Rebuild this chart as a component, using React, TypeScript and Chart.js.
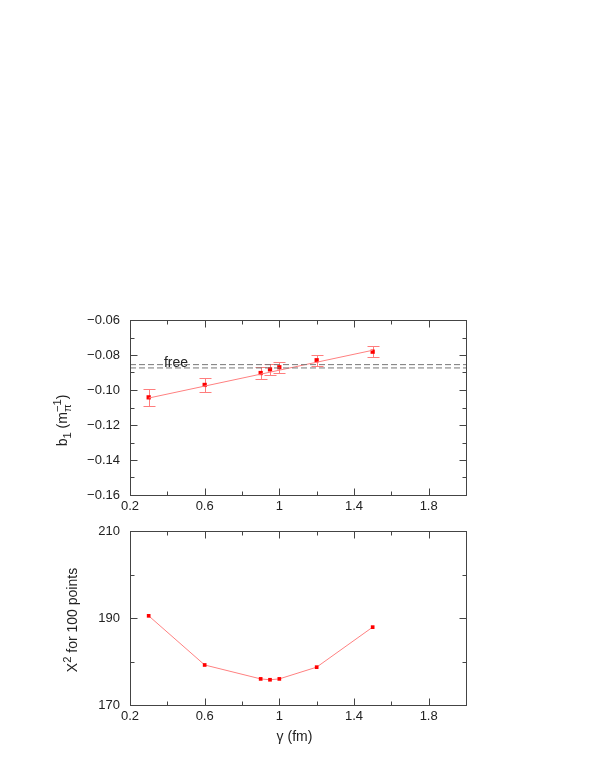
import { useEffect, useRef } from 'react';
import { Chart, registerables } from 'chart.js';

Chart.register(...registerables);

// gamma (fm) at which the calculation was done
const gammaFm = [0.3, 0.6, 0.9, 0.95, 1.0, 1.2, 1.5];
// b1 in units of 1/m_pi, with its error bars
const b1Values = [-0.1042, -0.0971, -0.0903, -0.0882, -0.087, -0.083, -0.0781];
const b1Errors = [0.005, 0.004, 0.0032, 0.003, 0.0031, 0.0032, 0.0031];
// straight line fitted through the b1 points
const fitGamma = [0.3, 1.5];
const fitB1 = [-0.1046, -0.0773];
// the two "free" reference levels
const freeLevels = [-0.0855, -0.0874];
const freeLabel = 'free';
const freeLabelGamma = 0.382;
// chi^2 for 100 points
const chi2Values = [190.5, 179.2, 176.0, 175.8, 176.0, 178.7, 187.9];

// axes
const xRange = [0.2, 2.0];
const xMajorTicks = [0.2, 0.6, 1.0, 1.4, 1.8];
const xMinorTicks = [0.4, 0.8, 1.2, 1.6];
const b1Range = [-0.16, -0.06];
const b1MajorTicks = [-0.16, -0.14, -0.12, -0.1, -0.08, -0.06];
const b1MinorTicks = [-0.15, -0.13, -0.11, -0.09, -0.07];
const chi2Range = [170, 210];
const chi2MajorTicks = [170, 190, 210];
const chi2MinorTicks = [180, 200];

const FONT = '"Liberation Sans", Arial, Helvetica, sans-serif';
const TEXT = '#222';
const FRAME = '#444';
const MARKER = '#ff0000';
const LINE = 'rgb(255,128,128)';
const ERRBAR = 'rgb(255,125,125)';
const tickFont = { family: FONT, size: 13 };

type Run = { text: string; script?: 'sub' | 'sup'; stack?: boolean };

const b1Title: Run[] = [
  { text: 'b' },
  { text: '1', script: 'sub' },
  { text: ' (m' },
  { text: 'π', script: 'sub' },
  { text: '−1', script: 'sup', stack: true },
  { text: ')' },
];
const chi2Title: Run[] = [{ text: 'Χ' }, { text: '2', script: 'sup' }, { text: ' for 100 points' }];
const gammaTitle: Run[] = [{ text: 'γ (fm)' }];

// draws a label with sub/superscripts, centred on (cx, cy)
function drawRuns(ctx: CanvasRenderingContext2D, runs: Run[], cx: number, cy: number, size: number, rotated: boolean) {
  const placed: { text: string; start: number; dy: number; s: number }[] = [];
  let x = 0;
  let prevStart = 0;
  let prevWidth = 0;
  for (const r of runs) {
    const s = r.script ? size * 0.8 : size;
    ctx.font = `${s}px ${FONT}`;
    const w = ctx.measureText(r.text).width;
    let start = x;
    if (r.stack) {
      start = prevStart;
      prevWidth = Math.max(prevWidth, w);
      x = prevStart + prevWidth;
    } else {
      x += w;
      prevWidth = w;
    }
    prevStart = start;
    const dy = r.script === 'sub' ? size * 0.3 : r.script === 'sup' ? -size * 0.42 : 0;
    placed.push({ text: r.text, start, dy, s });
  }
  ctx.save();
  ctx.translate(cx, cy);
  if (rotated) ctx.rotate(-Math.PI / 2);
  ctx.fillStyle = TEXT;
  ctx.textBaseline = 'alphabetic';
  ctx.textAlign = 'left';
  for (const p of placed) {
    ctx.font = `${p.s}px ${FONT}`;
    ctx.fillText(p.text, p.start - x / 2, size * 0.36 + p.dy);
  }
  ctx.restore();
}

// gnuplot style box with inward ticks on all four sides
function framePlugin(xMajor: number[], xMinor: number[], yMajor: number[], yMinor: number[]) {
  return {
    id: 'frame',
    afterDraw(chart: any) {
      const { ctx, chartArea } = chart;
      const { left, right, top, bottom } = chartArea;
      const xs = chart.scales.x;
      const ys = chart.scales.y;
      const L = Math.round(left) + 0.5;
      const R = Math.round(right) + 0.5;
      const T = Math.round(top) + 0.5;
      const B = Math.round(bottom) + 0.5;
      ctx.save();
      ctx.strokeStyle = FRAME;
      ctx.lineWidth = 1;
      ctx.strokeRect(L, T, R - L, B - T);
      ctx.beginPath();
      const xTick = (v: number, len: number) => {
        const p = Math.round(xs.getPixelForValue(v)) + 0.5;
        ctx.moveTo(p, B);
        ctx.lineTo(p, B - len);
        ctx.moveTo(p, T);
        ctx.lineTo(p, T + len);
      };
      const yTick = (v: number, len: number) => {
        const p = Math.round(ys.getPixelForValue(v)) + 0.5;
        ctx.moveTo(L, p);
        ctx.lineTo(L + len, p);
        ctx.moveTo(R, p);
        ctx.lineTo(R - len, p);
      };
      xMajor.forEach((v) => xTick(v, 7));
      xMinor.forEach((v) => xTick(v, 4));
      yMajor.forEach((v) => yTick(v, 7));
      yMinor.forEach((v) => yTick(v, 4));
      ctx.stroke();
      ctx.restore();
    },
  };
}

function errorBarPlugin() {
  return {
    id: 'errorBars',
    beforeDatasetsDraw(chart: any) {
      const { ctx } = chart;
      const xs = chart.scales.x;
      const ys = chart.scales.y;
      ctx.save();
      ctx.strokeStyle = ERRBAR;
      ctx.lineWidth = 1;
      ctx.beginPath();
      gammaFm.forEach((g, i) => {
        const px = Math.round(xs.getPixelForValue(g)) + 0.5;
        const hi = Math.round(ys.getPixelForValue(b1Values[i] + b1Errors[i])) + 0.5;
        const lo = Math.round(ys.getPixelForValue(b1Values[i] - b1Errors[i])) + 0.5;
        ctx.moveTo(px, hi);
        ctx.lineTo(px, lo);
        ctx.moveTo(px - 6, hi);
        ctx.lineTo(px + 6, hi);
        ctx.moveTo(px - 6, lo);
        ctx.lineTo(px + 6, lo);
      });
      ctx.stroke();
      ctx.restore();
    },
  };
}

const fmtX = (v: number) => String(Number(v.toFixed(2)));
const fmtB1 = (v: number) => (v < 0 ? '−' : '') + Math.abs(v).toFixed(2);

function xScale(height: number) {
  return {
    type: 'linear' as const,
    position: 'bottom' as const,
    min: xRange[0],
    max: xRange[1],
    grid: { display: false, drawTicks: false },
    border: { display: false },
    afterBuildTicks: (s: any) => {
      s.ticks = xMajorTicks.map((value) => ({ value }));
    },
    afterFit: (s: any) => {
      s.height = height;
    },
    ticks: {
      padding: 4,
      color: TEXT,
      font: tickFont,
      maxRotation: 0,
      autoSkip: false,
      callback: (v: any) => fmtX(Number(v)),
    },
  };
}

function topSpacer(height: number) {
  return {
    type: 'linear' as const,
    position: 'top' as const,
    grid: { display: false, drawTicks: false },
    border: { display: false },
    ticks: { display: false },
    afterFit: (s: any) => {
      s.height = height;
    },
  };
}

function yScale(range: number[], major: number[], fmt: (v: number) => string) {
  return {
    type: 'linear' as const,
    position: 'left' as const,
    min: range[0],
    max: range[1],
    grid: { display: false, drawTicks: false },
    border: { display: false },
    afterBuildTicks: (s: any) => {
      s.ticks = major.map((value) => ({ value }));
    },
    afterFit: (s: any) => {
      s.width = 130;
    },
    ticks: {
      padding: 10,
      color: TEXT,
      font: tickFont,
      autoSkip: false,
      callback: (v: any) => fmt(Number(v)),
    },
  };
}

export default function App() {
  const topRef = useRef<HTMLCanvasElement>(null);
  const bottomRef = useRef<HTMLCanvasElement>(null);

  useEffect(() => {
    if (!topRef.current || !bottomRef.current) return;

    const b1Chart = new Chart(topRef.current, {
      type: 'scatter',
      data: {
        datasets: [
          ...freeLevels.map((level) => ({
            data: xRange.map((x) => ({ x, y: level })),
            showLine: true,
            borderColor: '#777',
            borderDash: [6, 3],
            borderWidth: 1,
            pointRadius: 0,
          })),
          {
            data: fitGamma.map((x, i) => ({ x, y: fitB1[i] })),
            showLine: true,
            borderColor: LINE,
            borderWidth: 1,
            pointRadius: 0,
          },
          {
            data: gammaFm.map((x, i) => ({ x, y: b1Values[i] })),
            showLine: false,
            pointStyle: 'rect',
            pointRadius: 3,
            backgroundColor: MARKER,
            borderWidth: 0,
          },
        ],
      },
      options: {
        responsive: false,
        animation: false,
        layout: { padding: { right: 129 } },
        plugins: { legend: { display: false }, tooltip: { enabled: false } },
        scales: {
          x: xScale(35),
          xTop: topSpacer(20),
          y: yScale(b1Range, b1MajorTicks, fmtB1),
        },
      } as any,
      plugins: [
        errorBarPlugin(),
        framePlugin(xMajorTicks, xMinorTicks, b1MajorTicks, b1MinorTicks),
        {
          id: 'b1Labels',
          afterDraw(chart: any) {
            const { ctx, chartArea } = chart;
            drawRuns(ctx, b1Title, chartArea.left - 68, (chartArea.top + chartArea.bottom) / 2 + 13, 14, true);
            const px = chart.scales.x.getPixelForValue(freeLabelGamma);
            const py = chart.scales.y.getPixelForValue(freeLevels[0]);
            ctx.save();
            ctx.font = `14px ${FONT}`;
            ctx.fillStyle = TEXT;
            ctx.textAlign = 'left';
            ctx.textBaseline = 'alphabetic';
            ctx.fillText(freeLabel, px, py + 2);
            ctx.restore();
          },
        },
      ],
    });

    const chi2Chart = new Chart(bottomRef.current, {
      type: 'scatter',
      data: {
        datasets: [
          {
            data: gammaFm.map((x, i) => ({ x, y: chi2Values[i] })),
            showLine: true,
            borderColor: LINE,
            borderWidth: 1,
            pointStyle: 'rect',
            pointRadius: 2.6,
            pointBackgroundColor: MARKER,
            pointBorderWidth: 0,
          },
        ],
      },
      options: {
        responsive: false,
        animation: false,
        layout: { padding: { right: 129 } },
        plugins: { legend: { display: false }, tooltip: { enabled: false } },
        scales: {
          x: xScale(65),
          xTop: topSpacer(18),
          y: yScale(chi2Range, chi2MajorTicks, (v) => String(v)),
        },
      } as any,
      plugins: [
        framePlugin(xMajorTicks, xMinorTicks, chi2MajorTicks, chi2MinorTicks),
        {
          id: 'chi2Labels',
          afterDraw(chart: any) {
            const { ctx, chartArea } = chart;
            drawRuns(ctx, chi2Title, chartArea.left - 58, (chartArea.top + chartArea.bottom) / 2 + 2, 14, true);
            drawRuns(ctx, gammaTitle, (chartArea.left + chartArea.right) / 2 - 3.5, chartArea.bottom + 31, 14, false);
          },
        },
      ],
    });

    return () => {
      b1Chart.destroy();
      chi2Chart.destroy();
    };
  }, []);

  return (
    <div style={{ position: 'absolute', left: 0, top: 0, width: 595, height: 770, background: '#fff' }}>
      <canvas ref={topRef} width={595} height={230} style={{ position: 'absolute', left: 0, top: 300 }} />
      <canvas ref={bottomRef} width={595} height={257} style={{ position: 'absolute', left: 0, top: 513 }} />
    </div>
  );
}
